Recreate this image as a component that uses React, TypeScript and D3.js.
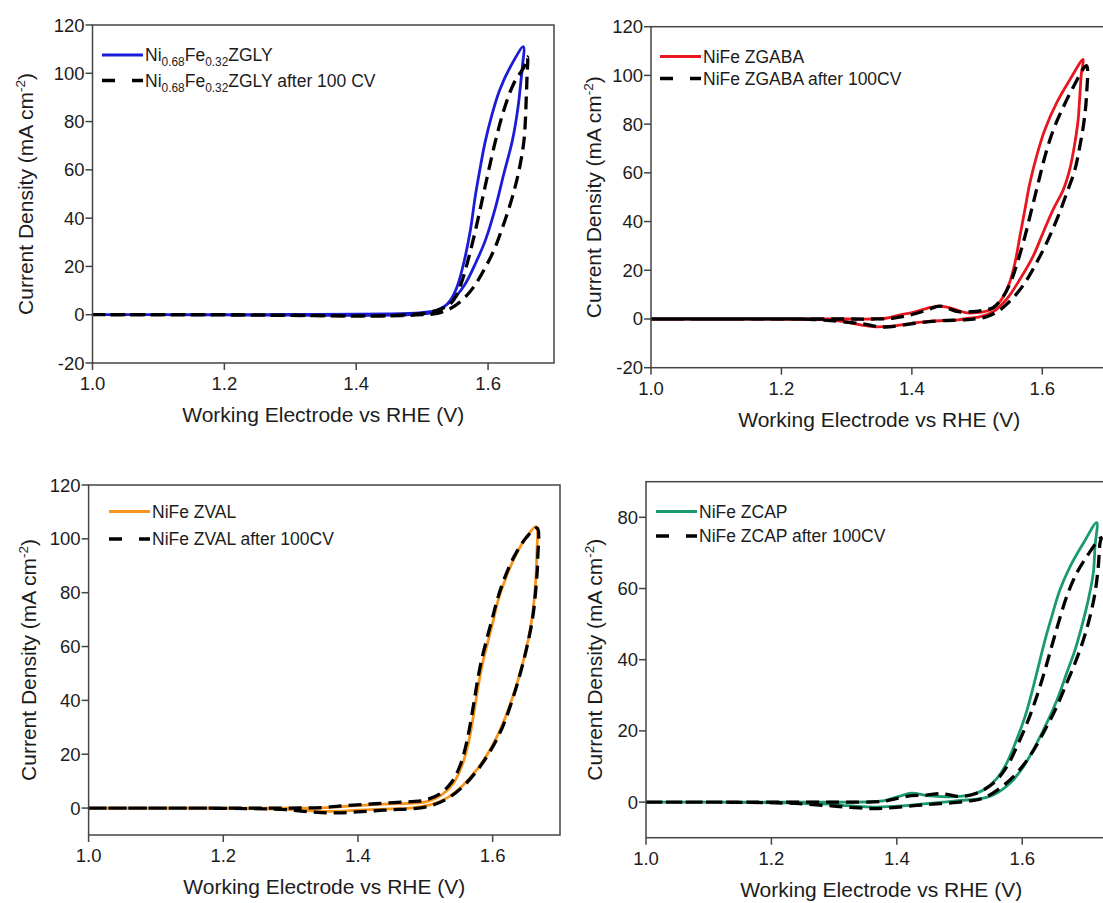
import React from "react";
import * as d3 from "d3";

type Pt = [number, number];

// Shared tick values
const xTicks = [1.0, 1.2, 1.4, 1.6];
const yTicksGly = [-20, 0, 20, 40, 60, 80, 100, 120];
const yTicksGaba = [-20, 0, 20, 40, 60, 80, 100, 120];
const yTicksVal = [0, 20, 40, 60, 80, 100, 120];
const yTicksCap = [0, 20, 40, 60, 80];

// Cyclic voltammograms: potential (V vs RHE), current density (mA cm-2), in scan order
const zglyFresh: Pt[] = [
  [1.0, 0], [1.1, 0], [1.2, 0], [1.3, 0.1], [1.4, 0.2], [1.45, 0.3], [1.48, 0.5], [1.5, 0.9],
  [1.515, 1.4], [1.528, 2.2], [1.543, 6.1], [1.553, 11.6], [1.563, 21.3], [1.5732, 35.1],
  [1.5805, 48.9], [1.5875, 60], [1.5955, 71.5], [1.6055, 82.5], [1.6175, 93], [1.6345, 103],
  [1.6536, 111],
  [1.652, 102.7], [1.6505, 98.5], [1.6455, 86.1], [1.637, 72.3], [1.624, 58.5], [1.6115, 44.7],
  [1.596, 30.9], [1.581, 21.3], [1.566, 13.0], [1.551, 7.5], [1.533, 3.3], [1.5126, 0.8],
  [1.49, 0.2], [1.45, -0.2], [1.4, -0.3], [1.3, -0.2], [1.2, -0.1], [1.1, 0], [1.0, 0],
];
const zglyCycled: Pt[] = [
  [1.0, 0], [1.2, 0], [1.3, -0.2], [1.4, -0.5], [1.45, -0.4], [1.48, 0], [1.5, 0.5], [1.52, 1.6],
  [1.5405, 4.0], [1.551, 7.5], [1.561, 14.4], [1.571, 24.0], [1.581, 35.1], [1.591, 47.5],
  [1.601, 59.9], [1.6115, 72.3], [1.624, 84.8], [1.639, 95.8], [1.6545, 102.7], [1.6597, 106.8],
  [1.659, 98], [1.658, 90.3], [1.6545, 72.3], [1.647, 59.9], [1.637, 48.9], [1.624, 37.8],
  [1.609, 26.8], [1.5937, 18.5], [1.5785, 11.6], [1.561, 6.1], [1.543, 2.6], [1.523, 0.6],
  [1.5, 0], [1.45, -0.5], [1.4, -0.6], [1.3, -0.3], [1.2, -0.1], [1.0, 0],
];

const zgabaFresh: Pt[] = [
  [1.0, 0], [1.1, 0], [1.2, 0], [1.3, 0], [1.339, 0], [1.36, 0.3], [1.381, 1.6], [1.402, 2.7],
  [1.4235, 4.4], [1.442, 5.3], [1.461, 4.4], [1.482, 2.6], [1.4992, 2.6], [1.5195, 3.7],
  [1.5349, 7.1], [1.5476, 13.3], [1.5579, 22.8], [1.5655, 33.7], [1.5732, 44.7], [1.5808, 55.6],
  [1.591, 66.6], [1.6038, 77.6], [1.6218, 88.6], [1.642, 98.1], [1.6626, 106.6],
  [1.66, 100.9], [1.6575, 91.3], [1.655, 81.8], [1.65, 72.3], [1.642, 61.3], [1.6323, 53.1],
  [1.6166, 44.9], [1.601, 35.3], [1.586, 25.8], [1.5655, 16.2], [1.545, 8.0], [1.5246, 3.0],
  [1.504, 0.9], [1.487, 0.3], [1.471, -0.4], [1.445, -0.7], [1.418, -1.2], [1.392, -2.1],
  [1.37, -2.9], [1.344, -3.2], [1.323, -2.5], [1.296, -1.1], [1.275, -0.4], [1.232, -0.1],
  [1.1, 0], [1.0, 0],
];
const zgabaCycled: Pt[] = [
  [1.0, 0], [1.2, 0], [1.3, 0], [1.339, 0], [1.37, 0.3], [1.397, 1.6], [1.4235, 3.7], [1.442, 5.3],
  [1.455, 4.4], [1.471, 3.0], [1.4925, 3.0], [1.5095, 3.6], [1.5246, 4.6], [1.54, 9.2],
  [1.5528, 16.0], [1.563, 24.2], [1.5732, 33.7], [1.5834, 44.7], [1.5936, 55.6], [1.6038, 66.5],
  [1.6166, 77.4], [1.632, 86.9], [1.6473, 95.1], [1.6677, 104.0],
  [1.6677, 91.3], [1.6636, 80.4], [1.6575, 70.8], [1.65, 61.3], [1.6375, 51.7], [1.6242, 42.1],
  [1.609, 32.6], [1.591, 23.0], [1.5732, 14.8], [1.5553, 8.7], [1.535, 3.7], [1.5146, 0.9],
  [1.4975, 0], [1.4765, -0.4], [1.445, -0.7], [1.413, -1.5], [1.386, -2.5], [1.365, -3.2],
  [1.349, -3.2], [1.328, -2.1], [1.307, -1.5], [1.275, -0.7], [1.243, -0.1], [1.1, 0], [1.0, 0],
];

const zvalFresh: Pt[] = [
  [1.0, 0], [1.1, 0], [1.2, 0], [1.3, 0], [1.346, 0.1], [1.372, 0.5], [1.399, 0.9], [1.425, 1.3],
  [1.452, 1.6], [1.4773, 1.8], [1.5021, 2.4], [1.5244, 4.9], [1.5416, 9.2], [1.554, 15.4],
  [1.5639, 24.1], [1.5704, 32.7], [1.5753, 40.2], [1.5802, 47.6], [1.5861, 55.0], [1.5936, 62.4],
  [1.601, 69.8], [1.6084, 77.3], [1.6184, 84.7], [1.6332, 93.4], [1.6505, 100.8], [1.6644, 104.5],
  [1.6654, 93.4], [1.6629, 81.0], [1.658, 69.8], [1.6505, 59.9], [1.6406, 50.0], [1.6283, 40.2],
  [1.6134, 30.3], [1.596, 21.6], [1.5763, 14.2], [1.554, 8.0], [1.5318, 3.7], [1.507, 1.2],
  [1.4773, 0], [1.452, -0.3], [1.425, -0.5], [1.399, -0.8], [1.372, -1.2], [1.346, -1.2],
  [1.319, -0.9], [1.293, -0.5], [1.24, -0.2], [1.1, 0], [1.0, 0],
];
const zvalCycled: Pt[] = [
  [1.0, 0], [1.2, 0], [1.3, 0], [1.346, 0.2], [1.372, 0.7], [1.399, 1.2], [1.425, 1.6],
  [1.452, 2.0], [1.478, 2.4], [1.5, 3.0], [1.521, 5.2], [1.539, 9.6], [1.552, 16],
  [1.5615, 24.5], [1.568, 33], [1.573, 40.5], [1.578, 48], [1.584, 55.5], [1.5915, 63],
  [1.599, 70], [1.607, 77.5], [1.617, 85], [1.632, 93.5], [1.65, 100.5], [1.666, 104],
  [1.667, 93], [1.664, 81], [1.659, 70], [1.651, 60], [1.641, 50], [1.629, 40], [1.6145, 30],
  [1.597, 21.4], [1.577, 14], [1.555, 7.8], [1.532, 3.4], [1.507, 0.8], [1.478, -0.3],
  [1.452, -0.6], [1.425, -1.0], [1.399, -1.4], [1.372, -1.8], [1.346, -1.7], [1.319, -1.2],
  [1.293, -0.6], [1.24, -0.2], [1.1, 0], [1.0, 0],
];

const zcapFresh: Pt[] = [
  [1.0, 0], [1.1, 0], [1.2, 0], [1.3, 0], [1.36, 0.1], [1.382, 0.5], [1.404, 1.6], [1.4237, 2.5],
  [1.4485, 1.8], [1.4795, 1.5], [1.5, 1.6], [1.5167, 2.0], [1.538, 3.4], [1.5593, 6.6],
  [1.575, 10.9], [1.591, 17.5], [1.6044, 24.0], [1.615, 30.6], [1.6256, 38.0], [1.6363, 45.5],
  [1.647, 52.1], [1.66, 59.6], [1.6761, 66.1], [1.6974, 72.7], [1.7187, 78.5],
  [1.716, 71.8], [1.7133, 64.3], [1.7053, 56.8], [1.6948, 49.3], [1.6841, 42.7], [1.6708, 36.2],
  [1.6575, 29.6], [1.6415, 23.1], [1.623, 16.5], [1.6017, 9.9], [1.5804, 5.3], [1.5538, 2.0],
  [1.5273, 0.8], [1.5007, 0.5], [1.4745, 0], [1.4476, -0.4], [1.42, -0.9], [1.395, -1.2],
  [1.368, -1.4], [1.349, -1.3], [1.3215, -1.0], [1.294, -0.6], [1.26, -0.4], [1.222, -0.2],
  [1.1, 0], [1.0, 0],
];
const zcapCycled: Pt[] = [
  [1.0, 0], [1.2, 0], [1.3, 0], [1.377, 0.2], [1.399, 1.0], [1.4237, 1.8], [1.445, 1.9],
  [1.469, 2.4], [1.482, 2.1], [1.5007, 1.6], [1.5273, 2.5], [1.5538, 5.3],
  [1.5752, 9.9], [1.5937, 16.5], [1.6097, 23.1], [1.623, 29.6], [1.6363, 37.1], [1.6469, 43.7],
  [1.6575, 50.2], [1.6708, 57.7], [1.6868, 64.3], [1.7027, 68.9], [1.7213, 73.6], [1.726, 74.3],
  [1.724, 72.8], [1.7213, 66.2], [1.716, 58.7], [1.708, 52.1], [1.6974, 45.5], [1.6841, 39.0],
  [1.6708, 33.4], [1.655, 26.8], [1.6363, 20.3], [1.615, 13.7], [1.591, 8.1], [1.5645, 3.9],
  [1.538, 1.1], [1.5145, 0.3], [1.4815, -0.3], [1.4485, -0.7], [1.415, -1.2], [1.382, -1.7],
  [1.357, -1.8], [1.327, -1.5], [1.299, -1.1], [1.266, -0.7], [1.2275, -0.3], [1.1, 0], [1.0, 0],
];

// Legend labels; "_{..}" marks a subscript
const glyLabels = ["Ni_{0.68}Fe_{0.32}ZGLY", "Ni_{0.68}Fe_{0.32}ZGLY after 100 CV"];
const gabaLabels = ["NiFe ZGABA", "NiFe ZGABA after 100CV"];
const valLabels = ["NiFe ZVAL", "NiFe ZVAL after 100CV"];
const capLabels = ["NiFe ZCAP", "NiFe ZCAP after 100CV"];

const X_TITLE = "Working Electrode vs RHE (V)";

const FONT = "'Liberation Sans', Arial, Helvetica, sans-serif";
const AXIS_COLOR = "#444";
const TEXT_COLOR = "#1c1c1c";
const TICK_FONT = 18.5;
const TITLE_FONT = 21;

interface PanelSpec {
  left: number;
  right: number;
  top: number;
  bottom: number;
  xDomain: [number, number];
  yDomain: [number, number];
  yTicks: number[];
  fresh: Pt[];
  cycled: Pt[];
  color: string;
  labels: string[];
  legendX: number;
  legendY: [number, number];
  yTitleBase: number;
}

const panels: PanelSpec[] = [
  {
    left: 92.5, right: 554, top: 25, bottom: 363,
    xDomain: [1.0, 1.7], yDomain: [-20, 120], yTicks: yTicksGly,
    fresh: zglyFresh, cycled: zglyCycled, color: "#1b1bd8", labels: glyLabels,
    legendX: 102, legendY: [55, 80.5], yTitleBase: 33,
  },
  {
    left: 651, right: 1107.5, top: 26.7, bottom: 367.7,
    xDomain: [1.0, 1.7], yDomain: [-20, 120], yTicks: yTicksGaba,
    fresh: zgabaFresh, cycled: zgabaCycled, color: "#e8161e", labels: gabaLabels,
    legendX: 660, legendY: [56.5, 78.5], yTitleBase: 601,
  },
  {
    left: 88.6, right: 560, top: 485, bottom: 835,
    xDomain: [1.0, 1.7], yDomain: [-10, 120], yTicks: yTicksVal,
    fresh: zvalFresh, cycled: zvalCycled, color: "#f7941d", labels: valLabels,
    legendX: 109, legendY: [511.5, 539], yTitleBase: 36,
  },
  {
    left: 646, right: 1116.3, top: 481.7, bottom: 837.7,
    xDomain: [1.0, 1.75], yDomain: [-10, 90], yTicks: yTicksCap,
    fresh: zcapFresh, cycled: zcapCycled, color: "#1a9a72", labels: capLabels,
    legendX: 656, legendY: [511.5, 536], yTitleBase: 602,
  },
];

function RichText({ text, x, y, size }: { text: string; x: number; y: number; size: number }) {
  const parts: { t: string; sub: boolean }[] = [];
  const re = /_\{([^}]*)\}/g;
  let last = 0;
  let m: RegExpExecArray | null;
  while ((m = re.exec(text)) !== null) {
    if (m.index > last) parts.push({ t: text.slice(last, m.index), sub: false });
    parts.push({ t: m[1], sub: true });
    last = m.index + m[0].length;
  }
  if (last < text.length) parts.push({ t: text.slice(last), sub: false });
  const shift = 5;
  let prevSub = false;
  return (
    <text x={x} y={y + size * 0.36} fontSize={size} fontFamily={FONT} fill={TEXT_COLOR}>
      {parts.map((p, i) => {
        let dy = 0;
        if (p.sub && !prevSub) dy = shift;
        if (!p.sub && prevSub) dy = -shift;
        prevSub = p.sub;
        return (
          <tspan key={i} dy={dy} fontSize={p.sub ? size * 0.68 : size}>
            {p.t}
          </tspan>
        );
      })}
    </text>
  );
}

function Panel({ spec }: { spec: PanelSpec }) {
  const x = d3.scaleLinear().domain(spec.xDomain).range([spec.left, spec.right]);
  const y = d3.scaleLinear().domain(spec.yDomain).range([spec.bottom, spec.top]);
  const line = d3
    .line<Pt>()
    .x((d) => x(d[0]))
    .y((d) => y(d[1]))
    .curve(d3.curveCatmullRom.alpha(0.5));
  const fmtX = d3.format(".1f");
  const tickLen = 7;
  const cy = (spec.top + spec.bottom) / 2;

  return (
    <g>
      {/* curves: fresh electrode underneath, cycled electrode dashed on top */}
      <path d={line(spec.fresh) ?? ""} fill="none" stroke={spec.color} strokeWidth={2.8} strokeLinejoin="round" />
      <path
        d={line(spec.cycled) ?? ""}
        fill="none"
        stroke="#000"
        strokeWidth={3.3}
        strokeDasharray="13 7"
        strokeLinejoin="round"
      />

      {/* frame */}
      <rect
        x={spec.left}
        y={spec.top}
        width={spec.right - spec.left}
        height={spec.bottom - spec.top}
        fill="none"
        stroke={AXIS_COLOR}
        strokeWidth={1.5}
      />

      {/* x ticks */}
      {xTicks.map((t) => (
        <g key={"x" + t}>
          <line x1={x(t)} x2={x(t)} y1={spec.bottom} y2={spec.bottom + tickLen} stroke={AXIS_COLOR} strokeWidth={1.5} />
          <text
            x={x(t)}
            y={spec.bottom + 27}
            textAnchor="middle"
            fontSize={TICK_FONT}
            fontFamily={FONT}
            fill={TEXT_COLOR}
          >
            {fmtX(t)}
          </text>
        </g>
      ))}

      {/* y ticks */}
      {spec.yTicks.map((t) => (
        <g key={"y" + t}>
          <line x1={spec.left - tickLen} x2={spec.left} y1={y(t)} y2={y(t)} stroke={AXIS_COLOR} strokeWidth={1.5} />
          <text
            x={spec.left - tickLen - 1}
            y={y(t) + 6.5}
            textAnchor="end"
            fontSize={TICK_FONT}
            fontFamily={FONT}
            fill={TEXT_COLOR}
          >
            {t}
          </text>
        </g>
      ))}

      {/* axis titles */}
      <text
        x={(spec.left + spec.right) / 2}
        y={spec.bottom + 59}
        textAnchor="middle"
        fontSize={TITLE_FONT}
        fontFamily={FONT}
        fill={TEXT_COLOR}
      >
        {X_TITLE}
      </text>
      <text
        transform={`translate(${spec.yTitleBase},${cy}) rotate(-90)`}
        textAnchor="middle"
        fontSize={TITLE_FONT}
        fontFamily={FONT}
        fill={TEXT_COLOR}
      >
        Current Density (mA cm
        <tspan fontSize={13.5} dy={-8}>
          -2
        </tspan>
        <tspan dy={8}>)</tspan>
      </text>

      {/* legend */}
      <line
        x1={spec.legendX}
        x2={spec.legendX + 41}
        y1={spec.legendY[0]}
        y2={spec.legendY[0]}
        stroke={spec.color}
        strokeWidth={3}
      />
      <RichText text={spec.labels[0]} x={spec.legendX + 43} y={spec.legendY[0]} size={17.5} />
      <line
        x1={spec.legendX}
        x2={spec.legendX + 41}
        y1={spec.legendY[1]}
        y2={spec.legendY[1]}
        stroke="#000"
        strokeWidth={3.4}
        strokeDasharray="13 17"
      />
      <RichText text={spec.labels[1]} x={spec.legendX + 43} y={spec.legendY[1]} size={17.5} />
    </g>
  );
}

export default function App() {
  return (
    <svg
      width={1103}
      height={903}
      viewBox="0 0 1103 903"
      style={{ position: "absolute", left: 0, top: 0, background: "#fff" }}
    >
      <rect x={0} y={0} width={1103} height={903} fill="#fff" />
      {panels.map((p, i) => (
        <Panel key={i} spec={p} />
      ))}
    </svg>
  );
}
